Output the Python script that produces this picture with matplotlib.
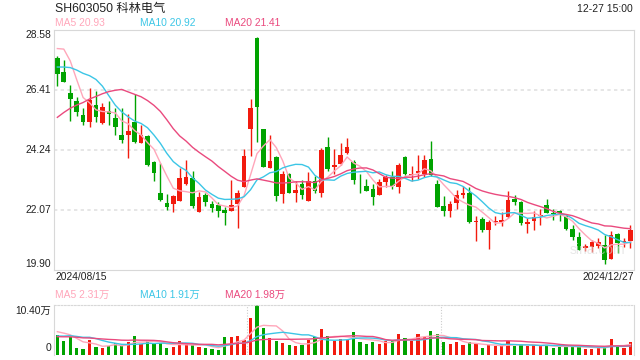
import numpy as np
import pandas as pd
import matplotlib
matplotlib.use('Agg')
import matplotlib.pyplot as plt

plt.rcParams['font.family'] = ['Liberation Sans', 'Noto Sans CJK SC']

# daily candles 2024/08/15 .. 2024/12/27
opens = [27.55, 27.05, 26.28, 25.99, 25.49, 25.25, 25.84, 25.22, 25.63, 25.39,
         24.77, 24.78, 25.24, 24.49, 24.72, 23.79, 22.67, 22.31, 22.29, 22.40,
         23.01, 23.22, 22.00, 22.59, 22.27, 22.25, 22.07, 22.03, 22.29, 22.89,
         25.00, 28.28, 24.99, 23.59, 23.96, 22.65, 23.36, 22.69, 23.00, 22.40,
         23.09, 22.69, 24.34, 23.63, 23.73, 24.12, 23.78, 22.97, 22.91, 22.82,
         22.61, 23.08, 23.24, 22.90, 23.97, 23.31, 23.38, 23.37, 23.90, 23.01,
         22.20, 22.03, 22.32, 22.61, 22.67, 21.61, 21.73, 21.35, 21.61, 21.62,
         21.79, 22.44, 22.35, 21.56, 21.65, 21.84, 22.23, 21.96, 22.02, 21.86,
         21.37, 21.08, 20.68, 20.72, 20.76, 20.78, 20.30, 21.19, 20.89, 20.93]
highs = [27.64, 27.49, 26.59, 26.14, 25.75, 26.46, 26.35, 25.93, 25.99, 25.75,
         25.75, 25.53, 26.27, 25.12, 24.76, 23.82, 23.76, 22.65, 22.61, 23.58,
         23.85, 23.46, 22.71, 22.67, 22.40, 22.35, 22.17, 23.14, 22.77, 24.28,
         26.07, 28.30, 24.99, 24.76, 24.00, 23.48, 23.38, 23.11, 23.15, 23.43,
         23.28, 24.30, 24.69, 24.26, 24.48, 24.66, 23.88, 23.36, 23.19, 23.00,
         23.19, 23.34, 23.46, 23.76, 24.02, 23.65, 24.04, 24.04, 24.54, 23.15,
         22.55, 22.37, 22.77, 22.92, 22.90, 21.83, 21.79, 21.71, 21.86, 21.97,
         22.73, 22.59, 22.37, 21.77, 22.03, 22.09, 22.44, 22.09, 22.06, 21.89,
         21.53, 21.26, 20.84, 20.98, 21.04, 21.14, 21.29, 21.21, 21.04, 21.53]
lows = [26.55, 26.68, 25.26, 25.47, 25.14, 25.07, 25.25, 25.18, 25.14, 24.78,
        24.48, 23.94, 24.48, 24.48, 23.66, 23.09, 22.40, 22.07, 22.00, 22.40,
        22.97, 22.13, 22.00, 22.21, 21.97, 21.79, 21.50, 22.03, 21.41, 22.89,
        24.03, 24.51, 23.60, 23.59, 22.40, 22.30, 22.69, 22.35, 22.44, 22.40,
        22.69, 22.52, 23.46, 23.36, 23.70, 24.08, 23.01, 22.67, 22.73, 22.23,
        22.59, 22.88, 22.83, 22.69, 23.31, 23.12, 23.19, 23.25, 23.28, 22.15,
        21.86, 21.79, 22.11, 22.49, 21.60, 20.95, 21.26, 20.66, 21.50, 21.47,
        21.77, 22.25, 21.53, 21.23, 21.32, 21.53, 21.94, 21.71, 21.67, 21.35,
        20.96, 20.60, 20.59, 20.54, 20.68, 20.10, 20.27, 20.49, 20.71, 20.68]
closes = [26.99, 26.70, 26.08, 25.61, 25.25, 26.04, 25.43, 25.78, 25.54, 25.07,
          24.60, 24.90, 24.53, 24.76, 23.69, 23.41, 22.42, 22.17, 22.55, 23.22,
          23.25, 22.21, 22.53, 22.36, 22.13, 22.03, 21.96, 22.23, 22.69, 24.01,
          25.75, 25.80, 23.62, 23.83, 22.58, 23.36, 22.69, 22.78, 22.61, 23.09,
          22.76, 24.23, 23.55, 23.70, 24.06, 24.34, 23.15, 22.95, 22.76, 22.54,
          23.07, 23.25, 22.93, 23.70, 23.36, 23.36, 23.47, 23.87, 23.32, 22.18,
          22.03, 22.27, 22.59, 22.66, 21.62, 21.67, 21.35, 21.62, 21.65, 21.70,
          22.42, 22.35, 21.60, 21.61, 21.79, 21.89, 21.96, 21.92, 21.94, 21.37,
          21.08, 20.62, 20.76, 20.90, 20.90, 20.26, 21.17, 20.86, 20.93, 21.34]
# volume in 万
volumes = [4.16, 2.98, 3.81, 1.46, 1.25, 3.12, 1.73, 1.53, 1.87, 2.57,
           1.87, 2.77, 3.95, 2.29, 2.91, 2.43, 2.43, 1.53, 1.59, 2.91,
           2.22, 2.08, 1.73, 1.53, 1.25, 1.04, 3.74, 3.74, 3.95, 3.12,
           7.77, 10.40, 5.62, 3.54, 2.91, 2.50, 2.08, 1.87, 2.08, 3.12,
           3.81, 5.41, 3.95, 2.98, 3.33, 3.12, 4.78, 2.70, 2.29, 2.70,
           2.29, 2.91, 2.91, 4.37, 3.54, 2.91, 4.37, 3.81, 4.99, 4.37,
           2.70, 2.29, 2.70, 2.08, 2.70, 2.29, 1.46, 2.08, 1.87, 1.87,
           2.91, 1.87, 2.08, 1.87, 2.08, 1.87, 2.08, 1.46, 1.59, 1.87,
           1.87, 1.73, 1.25, 1.25, 1.46, 1.73, 3.33, 1.87, 1.46, 2.70]

# sessions before the window, estimated so the moving averages start where the chart shows
prior_closes = [23.2, 23.0, 23.3, 23.4, 23.5, 23.6, 23.8, 24.0, 24.1, 24.0,
                26.70, 26.28, 26.5, 26.45, 26.88, 26.8, 28.2, 29.0, 28.5]
prior_volumes = [3.5, 3.8, 3.2, 4.0, 3.6, 3.9, 3.4, 3.7, 3.8, 3.8,
                 3.2, 2.9, 3.0, 3.1, 3.05, 4.5, 5.5, 5.2, 4.89]

price_ticks = [28.58, 26.41, 24.24, 22.07, 19.90]
price_tick_labels = ['28.58', '26.41', '24.24', '22.07', '19.90']
vol_top = 10.40
dates = ['2024/08/15', '2024/12/27']
ma_periods = [5, 10, 20]
ma_labels = ['MA5 20.93', 'MA10 20.92', 'MA20 21.41']
vol_ma_labels = ['MA5 2.31万', 'MA10 1.91万', 'MA20 1.98万']

RED = '#F21B0E'
GREEN = '#00A300'
MA_COLORS = ['#FFA6BA', '#3CC6E6', '#EA4A7E']
GRID = '#E2E2E2'
FRAME = '#D8D8D8'


def moving_avg(values, prior, n):
    s = pd.Series(list(prior) + list(values))
    return s.rolling(n).mean().to_numpy()[len(prior):]


W, H = 640, 360
fig = plt.figure(figsize=(6.4, 3.6), dpi=100)


def px(x, y):
    return x / W, 1 - y / H


x = np.arange(len(closes))
o = np.array(opens)
c = np.array(closes)
up = c >= o
colors = np.where(up, RED, GREEN)

# price panel
ax = fig.add_axes([54 / W, 1 - 269.7 / H, 580 / W, 240 / H])
ax.vlines(x, lows, highs, colors=colors, linewidth=1)
body = np.maximum(np.abs(c - o), 0.025)
ax.bar(x, body, bottom=np.minimum(o, c), width=0.72, color=colors, linewidth=0)
for n, col in zip(ma_periods, MA_COLORS):
    ax.plot(x, moving_avg(closes, prior_closes, n), color=col, linewidth=1)
ax.set_xlim(-0.52, 89.55)
ax.set_ylim(price_ticks[-1], price_ticks[0])
for t in price_ticks[1:-1]:
    ax.axhline(t, color=GRID, linewidth=1.2, linestyle=(0, (2, 2)), zorder=0)
ax.set_xticks([])
ax.set_yticks([])
for s in ax.spines.values():
    s.set_color(FRAME)
ax.text(0.985, 0.08, 'sina.com', transform=ax.transAxes, ha='right', va='center',
        fontsize=10, color='#d9d9d9', alpha=0.6)

# volume panel
axv = fig.add_axes([54 / W, 1 - 355 / H, 580 / W, 50 / H])
axv.bar(x, volumes, width=0.5, color=colors, linewidth=0)
for n, col in zip(ma_periods, MA_COLORS):
    axv.plot(x, moving_avg(volumes, prior_volumes, n), color=col, linewidth=1)
axv.set_xlim(-0.52, 89.55)
axv.set_ylim(0, vol_top)
x0, x1 = axv.get_xlim()
for f in (1 / 3, 2 / 3):
    axv.axvline(x0 + f * (x1 - x0), color='#cccccc', linewidth=0.8, linestyle=(0, (1, 1.5)), zorder=0)
axv.set_xticks([])
axv.set_yticks([])
axv.spines['top'].set_linestyle((0, (1.5, 1.5)))
axv.spines['bottom'].set_visible(False)
for s in axv.spines.values():
    s.set_color(FRAME)

# texts
fig.text(*px(55, 9), 'SH603050 科林电气', fontsize=8.8, color='#222222', va='center')
fig.text(*px(633, 9), '12-27 15:00', fontsize=7.5, color='#222222', va='center', ha='right')
for lab, col, xp in zip(ma_labels, MA_COLORS, [55, 140, 225]):
    fig.text(*px(xp, 23.5), lab, fontsize=7.4, color=col, va='center')
for lab, col, xp in zip(vol_ma_labels, MA_COLORS, [55, 140, 225]):
    fig.text(*px(xp, 295), lab, fontsize=7.4, color=col, va='center')
for t, lab in zip(price_ticks, price_tick_labels):
    yp = 29.7 + (price_ticks[0] - t) / (price_ticks[0] - price_ticks[-1]) * 240
    yp = min(max(yp, 35), 264)
    fig.text(*px(51, yp), lab, fontsize=7.4, color='#222222', va='center', ha='right')
fig.text(*px(55, 277), dates[0], fontsize=7.4, color='#222222', va='center')
fig.text(*px(634, 277), dates[1], fontsize=7.4, color='#222222', va='center', ha='right')
fig.text(*px(51, 311), '%.2f万' % vol_top, fontsize=7.4, color='#222222', va='center', ha='right')
fig.text(*px(51, 348), '0', fontsize=7.4, color='#222222', va='center', ha='right')

fig.savefig('out.png', dpi=100)
